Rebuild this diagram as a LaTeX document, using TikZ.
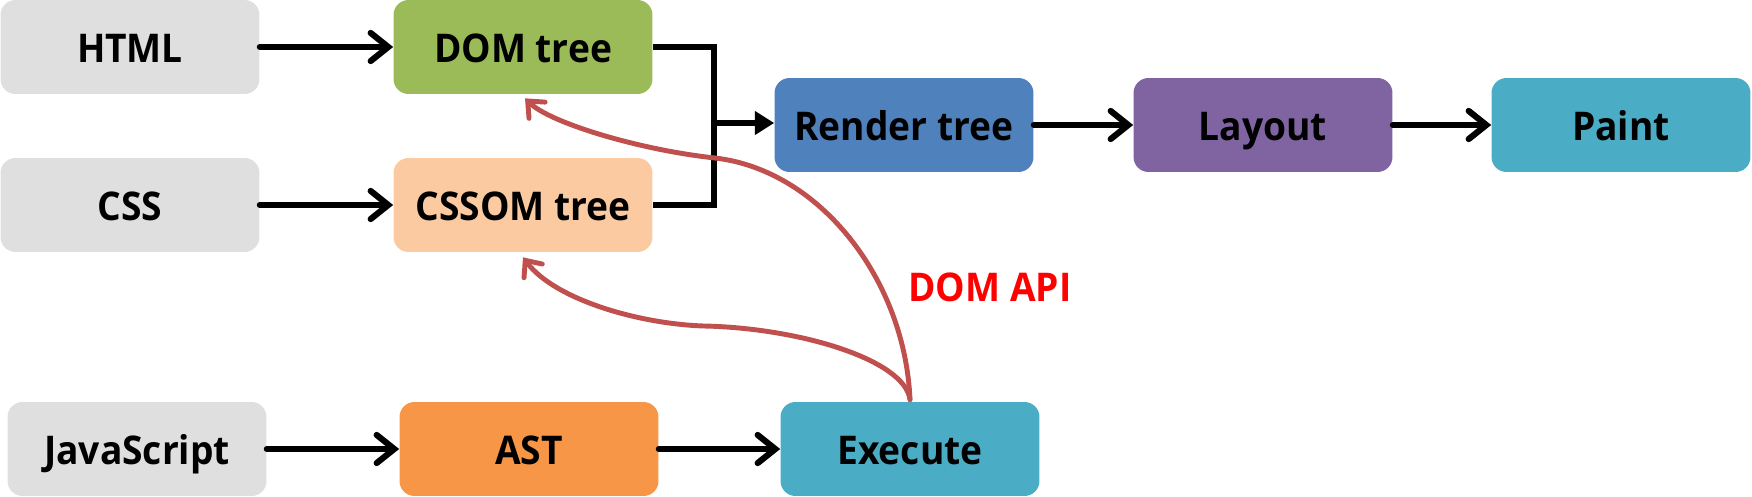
\documentclass[tikz,border=0pt]{standalone}
\usepackage{fontspec}
\setmainfont{Open Sans}[FakeStretch=0.94]
\usetikzlibrary{arrows.meta,calc}
\definecolor{cgrey}{HTML}{DFDFDF}
\definecolor{cgreen}{HTML}{9BBB59}
\definecolor{cpeach}{HTML}{FBCAA0}
\definecolor{cblue}{HTML}{4F81BD}
\definecolor{cpurple}{HTML}{8064A2}
\definecolor{caqua}{HTML}{4BACC6}
\definecolor{corange}{HTML}{F79646}
\definecolor{cred}{HTML}{C0504D}
\tikzset{
  box/.style={rectangle, rounded corners=0.3cm, minimum width=5.18cm, minimum height=1.88cm,
    inner sep=0pt, font=\fontsize{22.5}{26}\selectfont\bfseries, text=black,
    text height=20pt, text depth=1.8pt},
  flow/.style={line width=3.5pt, line cap=round, line join=miter,
    -{Straight Barb[length=10pt,width=16pt,line cap=round]}},
  link/.style={line width=3.5pt, line join=miter},
  api/.style={cred, line width=2.8pt, line cap=round,
    -{Straight Barb[length=7.5pt,width=13pt,line cap=round]}}
}
\begin{document}
\begin{tikzpicture}[x=0.02cm,y=-0.02cm]
\useasboundingbox (0,0) rectangle (1752,497);
\node[box, fill=cgrey]   (html)   at (130,47)  {HTML};
\node[box, fill=cgreen]  (dom)    at (523,47)  {DOM tree};
\node[box, fill=cgrey]   (css)    at (130,205) {CSS};
\node[box, fill=cpeach]  (cssom)  at (523,205) {CSSOM tree};
\node[box, fill=cblue]   (render) at (904,125) {Render tree};
\node[box, fill=cpurple] (layout) at (1263,125) {Layout};
\node[box, fill=caqua]   (paint)  at (1621,125) {Paint};
\node[box, fill=cgrey]   (js)     at (137,449) {JavaScript};
\node[box, fill=corange] (ast)    at (529,449) {AST};
\node[box, fill=caqua]   (exec)   at (910,449) {Execute};
\node[font=\fontsize{22.5}{26}\selectfont\bfseries, text=red] (apilabel) at (990,287) {DOM API};

\coordinate (jtop) at (714,47);
\coordinate (jbot) at (714,205);
\coordinate (jmid) at (714,123);

\draw[flow] (html) -- (dom);
\draw[flow] (css) -- (cssom);
\draw[flow] (js) -- (ast);
\draw[flow] (ast) -- (exec);
\draw[flow] (render) -- (layout);
\draw[flow] (layout) -- (paint);
\draw[link] (dom.east) -- (jtop) -- (jbot) -- (cssom.east);
\draw[line width=3.5pt, -{Triangle[length=11pt,width=13pt]}] (jmid) -- (jmid -| render.west);

\coordinate (c1) at (715,158);
\coordinate (c2) at (704,326);
\draw[api] ($(exec.north)+(0,-2)$) .. controls (905,280) and (820,170) .. (c1)
  .. controls (640,150) and (550,123) .. ($(dom.south)+(2,4)$);
\draw[api] ($(exec.north)+(0,-2)$) .. controls (905,360) and (800,328) .. (c2)
  .. controls (640,324) and (555,300) .. ($(cssom.south)+(0,5)$);
\end{tikzpicture}
\end{document}
